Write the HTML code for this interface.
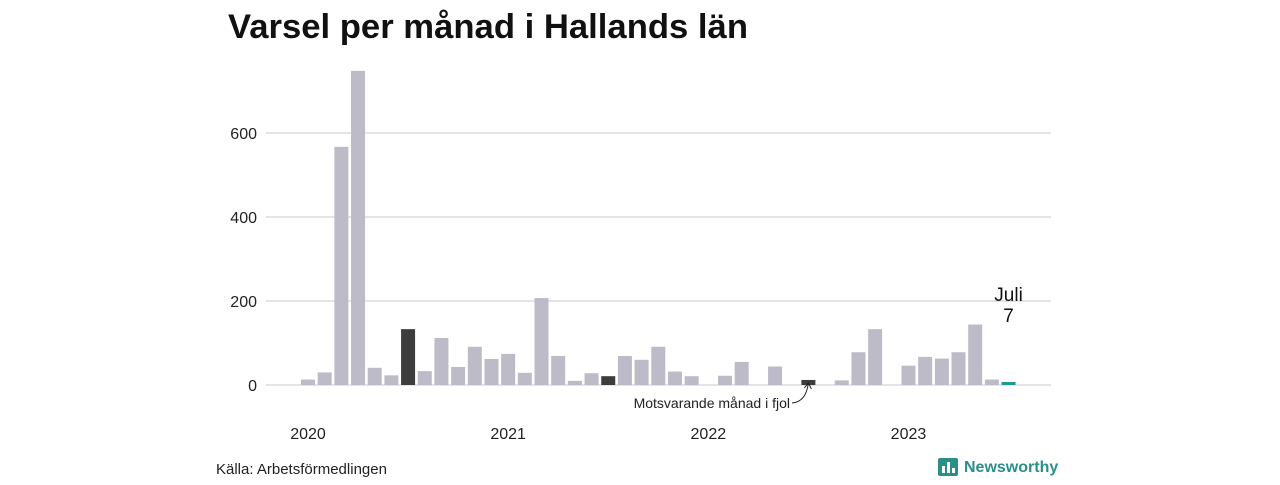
<!DOCTYPE html>
<html><head><meta charset="utf-8"><style>
body{margin:0;background:#fff;width:1280px;height:480px;overflow:hidden;font-family:"Liberation Sans",sans-serif}
</style></head><body>
<svg width="1280" height="480">
<text x="228" y="38" font-size="34" font-weight="bold" fill="#111" textLength="520" lengthAdjust="spacingAndGlyphs">Varsel per månad i Hallands län</text>
<g id="grid"></g><g id="bars"></g><g id="labels"></g>
<text x="216" y="474" font-size="15" fill="#222">Källa: Arbetsförmedlingen</text>
<g>
<rect x="938" y="458" width="20" height="18" rx="2" fill="#2a8f8a"/>
<rect x="942" y="466" width="3" height="7" fill="#fff"/><rect x="947" y="462" width="3" height="11" fill="#fff"/><rect x="952" y="468" width="3" height="5" fill="#fff"/>
<text x="964" y="472" font-size="16" font-weight="bold" fill="#2a8f8a">Newsworthy</text></g>
</svg>
<script>
const values=[13,30,567,748,41,23,133,33,112,43,91,62, 74,29,207,69,10,28,21,69,60,91,32,21, 0,22,55,0,44,0,12,0,11,78,133,0, 46,67,63,78,144,13,7];
const highlight=[6,18,30];
const yTicks=[0,200,400,600];
const years=["2020","2021","2022","2023"];
const NS="http://www.w3.org/2000/svg";
const y=v=>385-v*0.42, x=i=>308+i*16.68;
function mk(t,a,p){const e=document.createElementNS(NS,t);for(const k in a)e.setAttribute(k,a[k]);p.appendChild(e);return e;}
const G=document.getElementById('grid'),B=document.getElementById('bars'),L=document.getElementById('labels');
yTicks.forEach(t=>{const l=mk('line',{x1:266,x2:1051,y1:y(t),y2:y(t),stroke:'#dcdce0','stroke-width':1.5},G);


const tx=mk('text',{x:257,y:y(t)+6,'text-anchor':'end','font-size':16,fill:'#222'},L);tx.textContent=t;

});
values.forEach((v,i)=>{const last=i===values.length-1;
const fill=last?'#1e9a91':highlight.includes(i)?'#3d3d3d':'#bdbbc8';
const h=Math.max(v*0.42,last?3:0);
const r=mk('rect',{x:x(i)-7,y:385-h,width:14,height:h,fill},B);

});
years.forEach((yr,k)=>{const t=mk('text',{x:x(k*12),y:439,'text-anchor':'middle','font-size':16,fill:'#222'},L);t.textContent=yr;

});
const n=values.length-1;
const a=mk('text',{x:x(n),y:301,'text-anchor':'middle','font-size':19,fill:'#111'},L);a.textContent='Juli';


const b=mk('text',{x:x(n),y:322,'text-anchor':'middle','font-size':19,fill:'#111'},L);b.textContent=values[n];


const m=mk('text',{x:790,y:408,'text-anchor':'end','font-size':14,fill:'#222'},L);m.textContent='Motsvarande månad i fjol';


const p=mk('path',{d:`M792 403 Q806 402 ${x(30)} ${y(values[30])+3}`,fill:'none',stroke:'#222','stroke-width':1},L);


const ah=mk('path',{d:`M${x(30)-4} ${y(values[30])+8} L${x(30)} ${y(values[30])+3} L${x(30)+3} ${y(values[30])+9}`,fill:'none',stroke:'#222'},L);


</script>
</body></html>
